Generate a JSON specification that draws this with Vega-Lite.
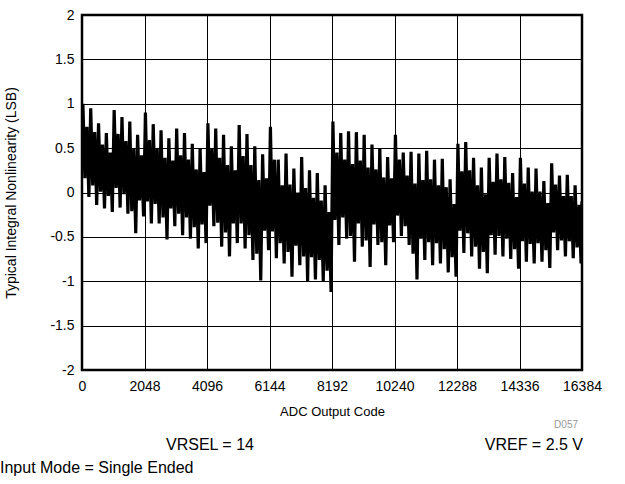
{
  "$schema": "https://vega.github.io/schema/vega-lite/v6.json",
  "width": 500,
  "height": 355,
  "autosize": {"type": "none"},
  "padding": {"left": 82, "top": 15, "right": 43, "bottom": 114},
  "background": "white",
  "config": {
    "font": "Liberation Sans",
    "view": {"stroke": "black", "strokeWidth": 2.5},
    "axis": {"labelColor": "black", "titleColor": "black", "labelFont": "Liberation Sans", "titleFont": "Liberation Sans"}
  },
  "layer": [
    {
      "data": {"values": [
        {"c":0,"v":0.30},{"c":30,"v":1.00},{"c":95,"v":0.16},{"c":160,"v":0.74},{"c":225,"v":-0.05},
        {"c":286,"v":0.95},{"c":351,"v":0.08},{"c":416,"v":0.68},{"c":481,"v":-0.14},
        {"c":542,"v":0.78},{"c":607,"v":0.01},{"c":672,"v":0.54},{"c":737,"v":-0.18},
        {"c":798,"v":0.67},{"c":863,"v":-0.04},{"c":928,"v":0.45},{"c":993,"v":-0.22},
        {"c":1054,"v":0.93},{"c":1119,"v":0.05},{"c":1184,"v":0.66},{"c":1249,"v":-0.17},
        {"c":1310,"v":0.85},{"c":1375,"v":-0.02},{"c":1440,"v":0.58},{"c":1505,"v":-0.24},
        {"c":1566,"v":0.80},{"c":1631,"v":-0.21},{"c":1696,"v":0.49},{"c":1761,"v":-0.46},
        {"c":1822,"v":0.65},{"c":1887,"v":-0.09},{"c":1952,"v":0.42},{"c":2017,"v":-0.27},
        {"c":2078,"v":0.90},{"c":2143,"v":-0.10},{"c":2208,"v":0.59},{"c":2273,"v":-0.35},
        {"c":2334,"v":0.77},{"c":2399,"v":-0.13},{"c":2464,"v":0.49},{"c":2529,"v":-0.35},
        {"c":2590,"v":0.70},{"c":2655,"v":-0.28},{"c":2720,"v":0.39},{"c":2785,"v":-0.53},
        {"c":2846,"v":0.61},{"c":2911,"v":-0.18},{"c":2976,"v":0.36},{"c":3041,"v":-0.38},
        {"c":3102,"v":0.72},{"c":3167,"v":-0.24},{"c":3232,"v":0.42},{"c":3297,"v":-0.48},
        {"c":3358,"v":0.67},{"c":3423,"v":-0.28},{"c":3488,"v":0.37},{"c":3553,"v":-0.52},
        {"c":3614,"v":0.55},{"c":3679,"v":-0.39},{"c":3744,"v":0.26},{"c":3809,"v":-0.63},
        {"c":3870,"v":0.50},{"c":3935,"v":-0.36},{"c":4000,"v":0.23},{"c":4065,"v":-0.57},
        {"c":4126,"v":0.78},{"c":4191,"v":-0.15},{"c":4256,"v":0.49},{"c":4321,"v":-0.38},
        {"c":4382,"v":0.72},{"c":4447,"v":-0.34},{"c":4512,"v":0.39},{"c":4577,"v":-0.61},
        {"c":4638,"v":0.65},{"c":4703,"v":-0.45},{"c":4768,"v":0.31},{"c":4833,"v":-0.72},
        {"c":4894,"v":0.52},{"c":4959,"v":-0.35},{"c":5024,"v":0.25},{"c":5089,"v":-0.57},
        {"c":5150,"v":0.76},{"c":5215,"v":-0.35},{"c":5280,"v":0.41},{"c":5345,"v":-0.63},
        {"c":5406,"v":0.66},{"c":5471,"v":-0.48},{"c":5536,"v":0.31},{"c":5601,"v":-0.76},
        {"c":5662,"v":0.52},{"c":5727,"v":-0.69},{"c":5792,"v":0.14},{"c":5857,"v":-0.99},
        {"c":5918,"v":0.43},{"c":5983,"v":-0.43},{"c":6048,"v":0.16},{"c":6113,"v":-0.65},
        {"c":6174,"v":0.74},{"c":6239,"v":-0.44},{"c":6304,"v":0.37},{"c":6369,"v":-0.74},
        {"c":6430,"v":0.37},{"c":6495,"v":-0.57},{"c":6560,"v":0.08},{"c":6625,"v":-0.80},
        {"c":6686,"v":0.44},{"c":6751,"v":-0.67},{"c":6816,"v":0.09},{"c":6881,"v":-0.95},
        {"c":6942,"v":0.27},{"c":7007,"v":-0.60},{"c":7072,"v":0.00},{"c":7137,"v":-0.82},
        {"c":7198,"v":0.40},{"c":7263,"v":-0.72},{"c":7328,"v":0.05},{"c":7393,"v":-1.00},
        {"c":7454,"v":0.25},{"c":7519,"v":-0.73},{"c":7584,"v":-0.06},{"c":7649,"v":-0.98},
        {"c":7710,"v":0.22},{"c":7775,"v":-0.76},{"c":7840,"v":-0.09},{"c":7905,"v":-1.00},
        {"c":7966,"v":0.08},{"c":8031,"v":-0.88},{"c":8096,"v":-0.22},{"c":8161,"v":-1.12},
        {"c":8222,"v":0.80},{"c":8287,"v":-0.31},{"c":8352,"v":0.45},{"c":8417,"v":-0.59},
        {"c":8478,"v":0.67},{"c":8543,"v":-0.28},{"c":8608,"v":0.37},{"c":8673,"v":-0.52},
        {"c":8734,"v":0.69},{"c":8799,"v":-0.49},{"c":8864,"v":0.32},{"c":8929,"v":-0.78},
        {"c":8990,"v":0.68},{"c":9055,"v":-0.35},{"c":9120,"v":0.36},{"c":9185,"v":-0.61},
        {"c":9246,"v":0.65},{"c":9311,"v":-0.54},{"c":9376,"v":0.28},{"c":9441,"v":-0.84},
        {"c":9502,"v":0.54},{"c":9567,"v":-0.36},{"c":9632,"v":0.26},{"c":9697,"v":-0.59},
        {"c":9758,"v":0.50},{"c":9823,"v":-0.56},{"c":9888,"v":0.17},{"c":9953,"v":-0.82},
        {"c":10014,"v":0.40},{"c":10079,"v":-0.37},{"c":10144,"v":0.16},{"c":10209,"v":-0.56},
        {"c":10270,"v":0.65},{"c":10335,"v":-0.26},{"c":10400,"v":0.37},{"c":10465,"v":-0.49},
        {"c":10526,"v":0.45},{"c":10591,"v":-0.38},{"c":10656,"v":0.19},{"c":10721,"v":-0.59},
        {"c":10782,"v":0.46},{"c":10847,"v":-0.69},{"c":10912,"v":0.10},{"c":10977,"v":-0.98},
        {"c":11038,"v":0.44},{"c":11103,"v":-0.52},{"c":11168,"v":0.14},{"c":11233,"v":-0.76},
        {"c":11294,"v":0.47},{"c":11359,"v":-0.56},{"c":11424,"v":0.15},{"c":11489,"v":-0.82},
        {"c":11550,"v":0.37},{"c":11615,"v":-0.57},{"c":11680,"v":0.08},{"c":11745,"v":-0.80},
        {"c":11806,"v":0.38},{"c":11871,"v":-0.64},{"c":11936,"v":0.06},{"c":12001,"v":-0.90},
        {"c":12062,"v":0.15},{"c":12127,"v":-0.73},{"c":12192,"v":-0.13},{"c":12257,"v":-0.95},
        {"c":12318,"v":0.55},{"c":12383,"v":-0.43},{"c":12448,"v":0.24},{"c":12513,"v":-0.68},
        {"c":12574,"v":0.57},{"c":12639,"v":-0.46},{"c":12704,"v":0.25},{"c":12769,"v":-0.72},
        {"c":12830,"v":0.39},{"c":12895,"v":-0.61},{"c":12960,"v":0.08},{"c":13025,"v":-0.86},
        {"c":13086,"v":0.28},{"c":13151,"v":-0.67},{"c":13216,"v":-0.02},{"c":13281,"v":-0.91},
        {"c":13342,"v":0.39},{"c":13407,"v":-0.48},{"c":13472,"v":0.12},{"c":13537,"v":-0.70},
        {"c":13598,"v":0.44},{"c":13663,"v":-0.49},{"c":13728,"v":0.15},{"c":13793,"v":-0.72},
        {"c":13854,"v":0.40},{"c":13919,"v":-0.52},{"c":13984,"v":0.11},{"c":14049,"v":-0.75},
        {"c":14110,"v":0.22},{"c":14175,"v":-0.64},{"c":14240,"v":-0.05},{"c":14305,"v":-0.86},
        {"c":14366,"v":0.39},{"c":14431,"v":-0.55},{"c":14496,"v":0.10},{"c":14561,"v":-0.78},
        {"c":14622,"v":0.28},{"c":14687,"v":-0.58},{"c":14752,"v":0.01},{"c":14817,"v":-0.80},
        {"c":14878,"v":0.27},{"c":14943,"v":-0.57},{"c":15008,"v":0.01},{"c":15073,"v":-0.78},
        {"c":15134,"v":0.13},{"c":15199,"v":-0.65},{"c":15264,"v":-0.12},{"c":15329,"v":-0.85},
        {"c":15390,"v":0.33},{"c":15455,"v":-0.45},{"c":15520,"v":0.09},{"c":15585,"v":-0.65},
        {"c":15646,"v":0.19},{"c":15711,"v":-0.54},{"c":15776,"v":-0.04},{"c":15841,"v":-0.72},
        {"c":15902,"v":0.20},{"c":15967,"v":-0.55},{"c":16032,"v":-0.04},{"c":16097,"v":-0.74},
        {"c":16158,"v":0.08},{"c":16223,"v":-0.62},{"c":16288,"v":-0.14},{"c":16353,"v":-0.80},
        {"c":16383,"v":-0.10}
      ]},
      "mark": {"type": "line", "color": "black", "strokeWidth": 3.2, "strokeJoin": "miter", "clip": true},
      "encoding": {
        "x": {
          "field": "c", "type": "quantitative",
          "scale": {"domain": [0, 16384], "nice": false, "zero": false},
          "axis": {
            "values": [0, 2048, 4096, 6144, 8192, 10240, 12288, 14336, 16384],
            "format": "d", "grid": true, "gridColor": "#000", "gridWidth": 1,
            "ticks": false, "domain": false,
            "labelFontSize": 14, "labelPadding": 9, "labelFlush": false, "labelOverlap": false,
            "title": "ADC Output Code", "titleFontSize": 13, "titleFontWeight": "normal", "titlePadding": 12
          }
        },
        "y": {
          "field": "v", "type": "quantitative",
          "scale": {"domain": [-2, 2], "nice": false, "zero": false},
          "axis": {
            "values": [-2, -1.5, -1, -0.5, 0, 0.5, 1, 1.5, 2],
            "labelExpr": "(datum.value < 0 ? '-' : '') + format(abs(datum.value), '~g')",
            "grid": true, "gridColor": "#000", "gridWidth": 1,
            "ticks": false, "domain": false,
            "labelFontSize": 14, "labelPadding": 8, "labelOverlap": false,
            "title": "Typical Integral Nonlinearity (LSB)", "titleFontSize": 14, "titleFontWeight": "normal", "titlePadding": 31
          }
        }
      }
    },
    {
      "data": {"values": [{}]},
      "mark": {"type": "text", "text": "D057", "fontSize": 10, "color": "#999999", "align": "right", "baseline": "middle"},
      "encoding": {"x": {"datum": 16253, "type": "quantitative"}, "y": {"datum": -2.62, "type": "quantitative"}}
    },
    {
      "data": {"values": [{}]},
      "mark": {"type": "text", "text": "VRSEL = 14", "fontSize": 16, "color": "black", "align": "center", "baseline": "middle"},
      "encoding": {"x": {"datum": 4194, "type": "quantitative"}, "y": {"datum": -2.84, "type": "quantitative"}}
    },
    {
      "data": {"values": [{}]},
      "mark": {"type": "text", "text": "VREF = 2.5 V", "fontSize": 16, "color": "black", "align": "right", "baseline": "middle"},
      "encoding": {"x": {"datum": 16417, "type": "quantitative"}, "y": {"datum": -2.84, "type": "quantitative"}}
    },
    {
      "data": {"values": [{}]},
      "mark": {"type": "text", "text": "Input Mode = Single Ended", "fontSize": 16, "color": "black", "align": "left", "baseline": "middle"},
      "encoding": {"x": {"datum": -2687, "type": "quantitative"}, "y": {"datum": -3.1, "type": "quantitative"}}
    }
  ]
}
